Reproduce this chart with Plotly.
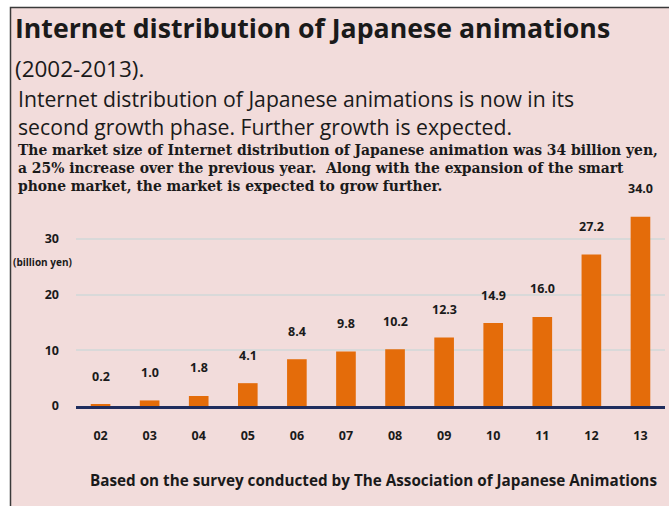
import plotly.graph_objects as go

years = ["02", "03", "04", "05", "06", "07", "08", "09", "10", "11", "12", "13"]
values = [0.2, 1.0, 1.8, 4.1, 8.4, 9.8, 10.2, 12.3, 14.9, 16.0, 27.2, 34.0]
value_labels = ["0.2", "1.0", "1.8", "4.1", "8.4", "9.8", "10.2", "12.3", "14.9", "16.0", "27.2", "34.0"]
y_ticks = [0, 10, 20, 30]

title = "Internet distribution of Japanese animations"
subtitle = "(2002-2013)."
headline = ["Internet distribution of Japanese animations is now in its",
            "second growth phase. Further growth is expected."]
body = ["The market size of Internet distribution of Japanese animation was 34 billion yen,",
        "a 25% increase over the previous year.  Along with the expansion of the smart",
        "phone market, the market is expected to grow further."]
unit = "(billion yen)"
source = "Based on the survey conducted by The Association of Japanese Animations"

W, H = 669, 506
L, R, T, B = 76, 665, 210, 406

def xp(px):
    return (px - L) / (R - L)

def yp(py):
    return (B - py) / (B - T)

PINK = "#F2DCDB"
ORANGE = "#E46C0A"
NAVY = "#1F2D5E"
TXT = "#1a1a1a"
SANS = "Open Sans"
SERIF = "DejaVu Serif"

fig = go.Figure()
fig.add_trace(go.Bar(x=list(range(len(years))), y=values,
                     marker=dict(color=ORANGE, line=dict(width=0)),
                     width=0.4, showlegend=False, hoverinfo="y"))

annotations = []
for i, (v, lab) in enumerate(zip(values, value_labels)):
    annotations.append(dict(x=i, y=v, xref="x", yref="y", text="<b>" + lab + "</b>",
                            showarrow=False, yanchor="middle", yshift=28,
                            font=dict(family=SANS, size=12.5, color=TXT)))

def txt(s, px, py, size, bold=False, family=SANS, xanchor="left", yanchor="middle"):
    annotations.append(dict(x=xp(px), y=yp(py), xref="paper", yref="paper",
                            text=("<b>%s</b>" % s) if bold else s, showarrow=False,
                            xanchor=xanchor, yanchor=yanchor, align="left",
                            font=dict(family=family, size=size, color=TXT)))

txt(title, 13, 27, 26.7, bold=True)
txt(subtitle, 13, 69, 22.5)
txt("<br>".join(headline), 16, 112, 21.2)
txt("<br>".join(body), 16, 167.5, 13.9, bold=True, family=SERIF)
txt(unit, 74, 262, 10, bold=True, xanchor="right")
txt(source, 88, 480, 15.25, bold=True)

shapes = [dict(type="rect", xref="paper", yref="paper", layer="below",
               x0=xp(10.5), x1=xp(700), y0=yp(7.5), y1=yp(540),
               fillcolor=PINK, line=dict(color="#3a3a3a", width=1.5))]

fig.update_layout(
    width=W, height=H,
    margin=dict(l=L, r=W - R, t=T, b=H - B, pad=0),
    paper_bgcolor="white", plot_bgcolor="white",
    xaxis=dict(range=[-0.5, len(years) - 0.5],
               tickvals=list(range(len(years))), ticktext=years,
               showgrid=False, showline=True, linecolor=NAVY, linewidth=3,
               zeroline=False, ticks="", ticklabelstandoff=16,
               tickfont=dict(family=SANS, size=12.5, color=TXT, weight="bold"),
               fixedrange=True),
    yaxis=dict(range=[0, 35.2], tickvals=y_ticks, showgrid=True, gridcolor="#D9D9D9",
               gridwidth=1.5, zeroline=False, showline=False, ticks="",
               ticklabelstandoff=16,
               tickfont=dict(family=SANS, size=12.5, color=TXT, weight="bold"),
               fixedrange=True),
    annotations=annotations,
    shapes=shapes,
    font=dict(family=SANS, color=TXT),
)

fig.write_html("out.html")
